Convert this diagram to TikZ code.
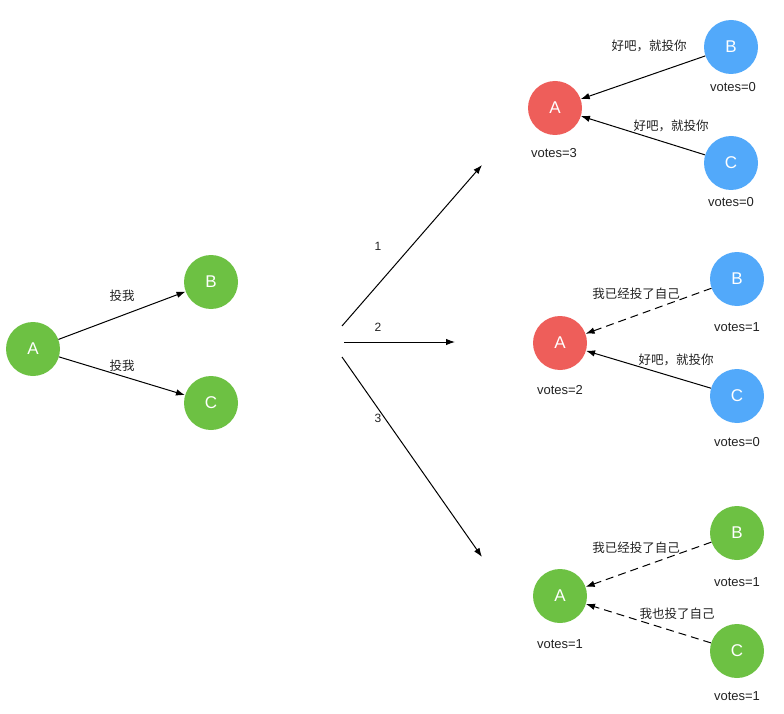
\documentclass[tikz,border=0pt]{standalone}
\usepackage{fontspec}
\setmainfont{Liberation Sans}
\newfontfamily\cjk{Noto Sans CJK SC}
\usetikzlibrary{arrows.meta}
\definecolor{cgreen}{HTML}{6DC143}
\definecolor{cred}{HTML}{EE5E5A}
\definecolor{cblue}{HTML}{52A9FA}
\definecolor{ctext}{HTML}{222222}
\tikzset{
  circ/.style={circle, minimum size=54pt, inner sep=0pt, text=white, font=\fontsize{17}{19}\selectfont},
  gnode/.style={circ, fill=cgreen},
  rnode/.style={circ, fill=cred},
  bnode/.style={circ, fill=cblue},
  lbl/.style={text=ctext, inner sep=0pt, font=\fontsize{13}{15}\selectfont},
  zh/.style={text=ctext, inner sep=0pt, font=\cjk\fontsize{12.5}{15}\selectfont},
  num/.style={text=ctext, inner sep=0pt, font=\fontsize{12}{14}\selectfont},
  arr/.style={draw=black, line width=1pt, -{Latex[length=9pt,width=6.5pt]}},
  darr/.style={arr, dash pattern=on 8pt off 5pt},
}
\begin{document}
\begin{tikzpicture}[x=1pt,y=-1pt]
\useasboundingbox (0,0) rectangle (784,714);
% left group
\node[gnode] (lA) at (33,349) {A};
\node[gnode] (lB) at (211,282) {B};
\node[gnode] (lC) at (211,403) {C};
\draw[arr] (lA) -- (lB);
\draw[arr] (lA) -- (lC);
\node[zh] (lt1) at (122,296) {投我};
\node[zh] (lt2) at (122,366) {投我};
% fan arrows
\coordinate (s1) at (342,326); \coordinate (e1) at (482,165);
\coordinate (s2) at (344,342); \coordinate (e2) at (455,342);
\coordinate (s3) at (342,357); \coordinate (e3) at (482,557);
\draw[arr] (s1) -- (e1);
\draw[arr] (s2) -- (e2);
\draw[arr] (s3) -- (e3);
\node[num] (n1) at (378,246) {1};
\node[num] (n2) at (378,327) {2};
\node[num] (n3) at (378,418) {3};
% top group
\node[rnode] (tA) at (555,108) {A};
\node[bnode] (tB) at (731,47) {B};
\node[bnode] (tC) at (731,163) {C};
\draw[arr] (tB) -- (tA);
\draw[arr] (tC) -- (tA);
\node[lbl] (tvA) at (554,153) {votes=3};
\node[lbl] (tvB) at (733,87) {votes=0};
\node[lbl] (tvC) at (731,202) {votes=0};
\node[zh] (tt1) at (649,46) {好吧，就投你};
\node[zh] (tt2) at (671,126) {好吧，就投你};
% middle group
\node[rnode] (mA) at (560,343) {A};
\node[bnode] (mB) at (737,279) {B};
\node[bnode] (mC) at (737,396) {C};
\draw[darr] (mB) -- (mA);
\draw[arr] (mC) -- (mA);
\node[lbl] (mvA) at (560,390) {votes=2};
\node[lbl] (mvB) at (737,327) {votes=1};
\node[lbl] (mvC) at (737,442) {votes=0};
\node[zh] (mt1) at (636,294) {我已经投了自己};
\node[zh] (mt2) at (676,360) {好吧，就投你};
% bottom group
\node[gnode] (bA) at (560,596) {A};
\node[gnode] (bB) at (737,533) {B};
\node[gnode] (bC) at (737,651) {C};
\draw[darr] (bB) -- (bA);
\draw[darr] (bC) -- (bA);
\node[lbl] (bvA) at (560,644) {votes=1};
\node[lbl] (bvB) at (737,582) {votes=1};
\node[lbl] (bvC) at (737,696) {votes=1};
\node[zh] (bt1) at (636,548) {我已经投了自己};
\node[zh] (bt2) at (677,614) {我也投了自己};
\end{tikzpicture}
\end{document}
